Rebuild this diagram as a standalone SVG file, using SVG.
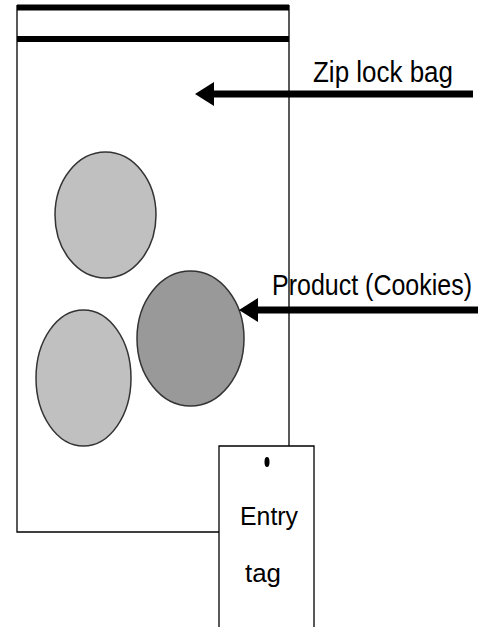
<svg xmlns="http://www.w3.org/2000/svg" width="487" height="627" viewBox="0 0 487 627">
  <style>
    .edge { fill: none; stroke: #000; stroke-width: 1.3; }
    .seal { stroke: #000; stroke-width: 6; }
    .cookie { stroke: #333; stroke-width: 1.5; }
    .light { fill: #c0c0c0; }
    .dark { fill: #999999; }
    .label { font-family: "Liberation Sans", Arial, sans-serif; fill: #000; }
    .pointer { stroke: #000; stroke-width: 7; }
  </style>
  <defs>
    <marker id="head" markerUnits="userSpaceOnUse" markerWidth="20" markerHeight="26" refX="0" refY="13" orient="auto">
      <path d="M0,1 L19,13 L0,25 Z" fill="#000"/>
    </marker>
  </defs>
  <rect width="487" height="627" fill="#fff"/>

  <!-- zip lock bag -->
  <g id="bag">
    <path class="edge" d="M17,5 V532 H219 M289,5 V446"/>
    <line class="seal" x1="17" y1="7.5" x2="289" y2="7.5"/>
    <line class="seal" x1="17" y1="39" x2="289" y2="39"/>
  </g>

  <!-- cookies -->
  <g id="cookie-top">
    <ellipse class="cookie light" cx="105.5" cy="215" rx="50.5" ry="63"/>
  </g>
  <g id="cookie-left">
    <ellipse class="cookie light" cx="83.5" cy="378" rx="47.5" ry="68"/>
  </g>
  <g id="cookie-product">
    <ellipse class="cookie dark" cx="190.5" cy="338.5" rx="53.5" ry="67.5"/>
  </g>

  <!-- entry tag -->
  <g id="entry-tag">
    <path class="edge" d="M219,627 V446 H314 V627"/>
    <ellipse cx="267" cy="462" rx="2.5" ry="5" fill="#000"/>
    <text class="label" x="240" y="525" font-size="26" textLength="58" lengthAdjust="spacingAndGlyphs">Entry</text>
    <text class="label" x="245" y="582" font-size="26" textLength="36" lengthAdjust="spacingAndGlyphs">tag</text>
  </g>

  <!-- labels -->
  <g id="label-bag">
    <text class="label" x="313" y="82" font-size="29" textLength="140" lengthAdjust="spacingAndGlyphs">Zip lock bag</text>
  </g>
  <g id="label-product">
    <text class="label" x="272" y="295" font-size="29" textLength="200" lengthAdjust="spacingAndGlyphs">Product (Cookies)</text>
  </g>

  <!-- pointers -->
  <g id="connectors">
    <line class="pointer" x1="473" y1="94" x2="214" y2="94" marker-end="url(#head)"/>
    <line class="pointer" x1="478" y1="310" x2="258" y2="310" marker-end="url(#head)"/>
  </g>
</svg>
